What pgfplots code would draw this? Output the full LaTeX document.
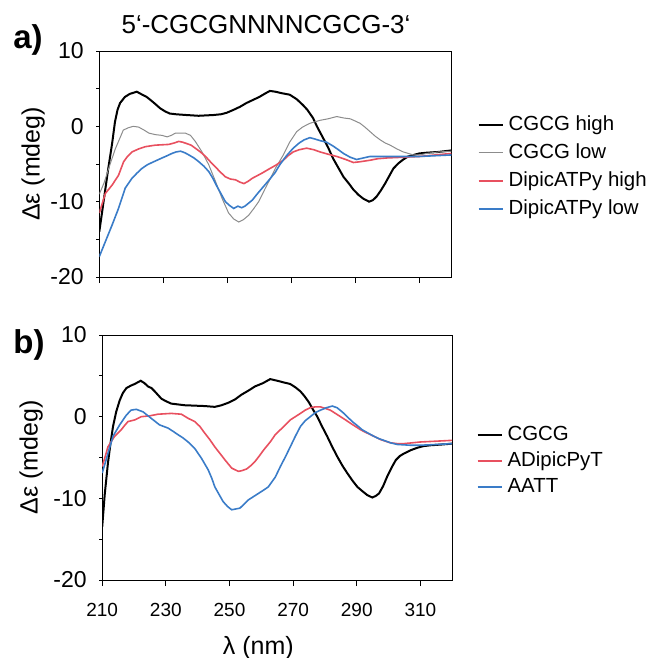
\documentclass[border=0pt]{standalone}
\usepackage{fontspec}
\setmainfont{Liberation Sans}
\usepackage{pgfplots}
\pgfplotsset{compat=1.18}

\definecolor{cdred}{RGB}{232,80,95}
\definecolor{cdblue}{RGB}{58,124,200}
\definecolor{cdgray}{RGB}{140,140,140}

% shared look of both CD panels
\pgfplotsset{
  cdaxis/.style={
    scale only axis,
    xmin=210, xmax=320, ymin=-20, ymax=10,
    xtick={210,230,...,310},
    ytick={-20,-10,0,10}, yticklabels={-20,-10,0,10},
    minor ytick={-15,-5,5},
    tick align=outside, tick pos=left,
    axis line style={line width=0.5pt},
    x tick style={black, line width=0.5pt, /pgfplots/major tick length=3pt},
    y tick style={black, line width=0.5pt, /pgfplots/major tick length=1.5pt, /pgfplots/minor tick length=1.5pt},
    yticklabel style={font=\fontsize{11.5}{13}\selectfont},
    xticklabel style={font=\fontsize{9.5}{11}\selectfont, yshift=-4pt},
    ylabel={Δε (mdeg)},
    ylabel style={font=\fontsize{12.5}{14}\selectfont, anchor=center},
    legend cell align=left,
    legend image code/.code={\draw[##1] (0pt,0pt) -- (12pt,0pt);},
    legend style={draw=none, fill=none, anchor=west, inner sep=0pt,
      font=\fontsize{10.2}{12}\selectfont,
      nodes={inner sep=0pt, text height=7.5pt, text depth=2pt},
      /tikz/every odd column/.append style={column sep=2.5pt}},
  },
  cdblack/.style={black, line width=1pt},
  cdgrayl/.style={cdgray, line width=0.5pt},
  cdredl/.style={cdred, line width=0.8pt},
  cdbluel/.style={cdblue, line width=0.8pt},
}

\begin{document}
\begin{tikzpicture}
\useasboundingbox (0,0) rectangle (324.5pt,-329pt);

% ---------------- panel a ----------------
\begin{axis}[cdaxis,
  at={(49.65pt,-25.5pt)}, anchor=north west,
  width=176pt, height=113pt,
  xticklabels={},
  ylabel style={at={(axis description cs:-0.188,0.5)}},
  legend style={at={(axis description cs:1,0.488)}, xshift=13pt, row sep=4.5pt},
]
\addplot[cdblack] coordinates {
(210,-14) (211,-11) (212,-8) (212.8,-5.6) (214,-2.3) (214.9,0.6) (215.7,2.2) (216.5,3.1)
(218,3.9) (219.5,4.3) (221.7,4.6) (223,4.3) (224.8,3.9) (226,3.5) (227.4,3.0) (229,2.4)
(230.5,2.0) (232,1.7) (234,1.6) (237.3,1.5) (241,1.4) (245.6,1.5) (248,1.6) (249.8,1.8)
(252,2.2) (254,2.6) (256,3.1) (258,3.5) (260,3.9) (262,4.4) (263.3,4.7) (265,4.6)
(267,4.4) (269.5,4.2) (271.7,3.6) (273.7,2.8) (275,2.2) (276.8,1.1) (278,0) (280,-1.6)
(281.5,-2.8) (283.1,-4.3) (284.7,-5.5) (286.3,-6.7) (288,-7.6) (289.4,-8.4) (291,-9.1)
(292.5,-9.6) (294.3,-10) (295.5,-9.8) (296.7,-9.3) (298,-8.5) (299.3,-7.6) (300.6,-6.6)
(301.9,-5.6) (303.5,-4.9) (305,-4.4) (306.5,-4.0) (308.2,-3.8) (310,-3.6) (312.3,-3.5)
(316,-3.4) (320,-3.2)
};
\addlegendentry{CGCG high}
\addplot[cdgrayl] coordinates {
(210,-9) (211.5,-7.5) (213,-5.5) (215,-3) (217.5,-0.5) (219,-0.2) (220.6,0) (222.3,-0.1)
(224,-0.5) (225.5,-0.9) (227.5,-1.1) (229.6,-1.2) (231.2,-1.4) (232.5,-1.2) (233.8,-0.9)
(236.9,-0.9) (238.5,-1.2) (240,-2) (242.1,-3.4) (244.2,-5.1) (246.3,-7.3) (248.4,-9.6)
(250.4,-11.5) (252,-12.3) (253.6,-12.7) (255,-12.4) (256.7,-11.8) (258.3,-10.9)
(259.8,-10) (261.9,-8.2) (263.5,-6.9) (265,-5.6) (267.5,-3.8) (269.5,-2.1) (271.7,-0.7)
(273.5,-0.1) (275.8,0.4) (279,0.8) (281.5,1.0) (284.2,1.3) (286.5,1.1) (288.4,1.0)
(290,0.7) (291.5,0.4) (293,-0.1) (294.6,-0.7) (296.2,-1.3) (297.8,-1.8) (299.3,-2.2)
(300.9,-2.5) (303,-3.0) (305,-3.4) (308.2,-3.8) (310,-3.8) (312.3,-3.6) (316,-3.4) (320,-3.3)
};
\addlegendentry{CGCG low}
\addplot[cdredl] coordinates {
(210,-11.5) (210.3,-11.1) (211.9,-8.9) (214,-7.8) (216,-6.5) (217.6,-4.7) (218.8,-4.0)
(220.2,-3.4) (222.3,-3.0) (224.4,-2.7) (227.5,-2.5) (231.7,-2.4) (233.5,-2.2) (234.8,-2.0)
(236,-2.1) (237.4,-2.3) (238.7,-2.5) (240,-2.9) (241.6,-3.4) (243.2,-4.0) (244.7,-4.7)
(246.3,-5.4) (247.9,-6.1) (249.4,-6.7) (251,-7.0) (252.6,-7.1) (253.9,-7.4) (255.2,-7.6)
(256.5,-7.3) (257.8,-6.9) (260.9,-6.2) (263.3,-5.6) (265,-5.2) (267.5,-4.5) (269,-3.9)
(270.6,-3.4) (272.5,-3.1) (274.8,-2.9) (277,-3.1) (279,-3.4) (281.5,-3.7) (284.2,-4.0)
(287,-4.4) (289.4,-4.8) (291.5,-4.7) (294.6,-4.5) (297,-4.3) (299.8,-4.2) (305,-4.1)
(310.2,-4.0) (315,-3.8) (320,-3.6)
};
\addlegendentry{DipicATPy high}
\addplot[cdbluel] coordinates {
(210,-17.3) (211.9,-15.3) (214,-13.1) (216,-10.9) (218.1,-8.2) (220.2,-6.9) (221.8,-6.2)
(223.3,-5.6) (225,-5.1) (227,-4.7) (229.6,-4.2) (231.2,-3.9) (232.7,-3.6) (234,-3.4)
(235.4,-3.3) (236.7,-3.5) (238,-3.8) (239.6,-4.2) (241.1,-4.7) (242.7,-5.3) (244.2,-6.0)
(245.5,-6.9) (246.8,-8.0) (248.1,-9.0) (249.4,-10.0) (250.7,-10.5) (252,-10.9)
(253.3,-10.6) (254.5,-10.8) (255.5,-10.6) (257.8,-9.8) (259.3,-9.0) (260.9,-8.2)
(263.3,-7.0) (265,-6.1) (266.4,-5.1) (268.5,-3.9) (270.6,-2.9) (272.5,-2.2) (274,-1.8)
(275.8,-1.5) (277.5,-1.7) (279,-1.9) (281,-2.1) (283,-2.6) (284.7,-3.1) (286.3,-3.6)
(288.4,-4.1) (290.4,-4.4) (292.5,-4.2) (294.6,-4.0) (300,-4.0) (305,-4.0) (310,-4.0)
(315,-3.9) (320,-3.8)
};
\addlegendentry{DipicATPy low}
\end{axis}

% ---------------- panel b ----------------
\begin{axis}[cdaxis,
  at={(51.1pt,-167.5pt)}, anchor=north west,
  width=175pt, height=122.5pt,
  xticklabels={210,230,250,270,290,310},
  ylabel style={at={(axis description cs:-0.203,0.5)}},
  xlabel={λ (nm)},
  xlabel style={at={(axis description cs:0.446,-0.279)}, anchor=center, font=\fontsize{12.5}{14}\selectfont},
  legend style={at={(axis description cs:1,0.486)}, xshift=12pt, row sep=3.5pt},
]
\addplot[cdblack] coordinates {
(210,-13.5) (210.8,-9.5) (211.8,-5.7) (212.6,-3.3) (213.4,-1.2) (214.4,0.6) (215.5,2.0)
(216.5,2.9) (217.6,3.5) (219,3.8) (220.2,4.0) (222.1,4.4) (223.3,4.1) (224.4,3.7)
(225.5,3.5) (226.5,3.1) (228.6,2.2) (230,1.9) (231.7,1.6) (235.9,1.4) (242.2,1.3)
(245.4,1.2) (247.5,1.4) (249.6,1.7) (251.7,2.1) (253.8,2.7) (256,3.2) (258,3.7)
(260.5,4.1) (262.8,4.6) (265,4.4) (267,4.2) (269.1,4.0) (270.7,3.6) (272.3,3.1)
(273.6,2.5) (274.9,1.8) (276.2,0.9) (277.6,0) (279.1,-1.2) (280.7,-2.4) (282.3,-3.7)
(283.9,-4.9) (285.5,-6.0) (287,-6.9) (288.6,-7.8) (290.2,-8.6) (291.7,-9.1) (293.3,-9.6)
(294.9,-9.9) (296,-9.7) (297,-9.4) (298.3,-8.5) (299.6,-7.3) (301,-6.2) (302.3,-5.3)
(303.6,-4.8) (304.9,-4.5) (307,-4.1) (309.1,-3.8) (311,-3.6) (313.3,-3.5) (317,-3.4) (320,-3.3)
};
\addlegendentry{CGCG}
\addplot[cdredl] coordinates {
(210,-6.1) (211,-4.8) (211.8,-3.7) (213.9,-2.4) (216,-1.6) (217,-1.1) (218.1,-0.6)
(220.2,-0.4) (222.3,0.0) (224.9,0.1) (227.5,0.3) (231.7,0.4) (234.9,0.3) (237,-0.2)
(239.1,-0.6) (240.7,-1.2) (242.2,-2.0) (243.8,-2.8) (245.4,-3.7) (247,-4.5) (248.6,-5.3)
(250.7,-6.3) (252.8,-6.7) (254,-6.6) (255.4,-6.4) (256.7,-6.0) (258,-5.5) (259.4,-4.8)
(260.7,-4.1) (262.8,-3.1) (264.4,-2.2) (266,-1.6) (267.6,-1.0) (269.1,-0.4) (270.7,0.0)
(272.3,0.4) (273.8,0.8) (275.4,1.1) (277,1.2) (278.6,1.2) (280.2,1.0) (281.7,0.8)
(283.3,0.4) (284.9,0.0) (286.5,-0.4) (288,-0.8) (289.6,-1.2) (291.2,-1.6) (292.7,-1.9)
(294.3,-2.2) (295.9,-2.5) (297.5,-2.8) (299,-3.0) (300.6,-3.2) (302.7,-3.3) (304.8,-3.3)
(307.5,-3.2) (310,-3.1) (315,-3.0) (320,-2.9)
};
\addlegendentry{ADipicPyT}
\addplot[cdbluel] coordinates {
(210,-6.9) (211,-5.6) (211.8,-4.5) (213.4,-2.4) (215.5,-1.0) (217.6,0.2) (219.1,0.8)
(220.7,0.9) (222.8,0.6) (224.1,0.2) (225.4,-0.2) (226.7,-0.6) (228,-1.0) (230.7,-1.4)
(232.3,-1.8) (233.8,-2.2) (235.4,-2.6) (237,-3.1) (239.1,-3.9) (241.2,-5.1) (243.3,-6.5)
(244.4,-7.5) (245.4,-8.6) (246.7,-9.5) (248,-10.4) (249.4,-11.0) (250.7,-11.4) (252,-11.3)
(253.3,-11.2) (254.6,-10.7) (255.9,-10.2) (257.5,-9.8) (259.1,-9.4) (260.7,-9.0)
(262.2,-8.6) (264.4,-7.4) (266,-6.1) (267.6,-4.9) (269.1,-3.7) (270.7,-2.4) (272.3,-1.2)
(273.8,-0.5) (275.4,0) (277,0.5) (278.6,0.8) (280.5,1.1) (282.3,1.3) (283.8,1.1)
(285.4,0.6) (287,0) (288.6,-0.6) (290.2,-1.1) (291.7,-1.6) (293.5,-2.0) (295.4,-2.4)
(297,-2.7) (298.5,-2.9) (300.6,-3.2) (302.7,-3.4) (306.9,-3.5) (310,-3.5) (315.3,-3.4) (320,-3.3)
};
\addlegendentry{AATT}
\end{axis}

\node[font=\fontsize{13}{15}\selectfont] at (133pt,-12.5pt) {5‘-CGCGNNNNCGCG-3‘};
\node[anchor=west, inner sep=0pt, font=\fontsize{16.5}{18}\selectfont\bfseries] at (6.5pt,-20pt) {a)};
\node[anchor=west, inner sep=0pt, font=\fontsize{16.5}{18}\selectfont\bfseries] at (6.5pt,-172.5pt) {b)};
\end{tikzpicture}
\end{document}
